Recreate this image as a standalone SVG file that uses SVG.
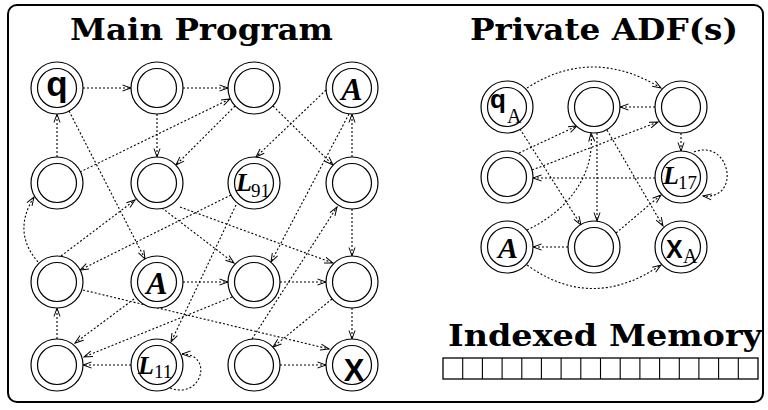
<svg xmlns="http://www.w3.org/2000/svg" width="768" height="410" viewBox="0 0 768 410">
  <style>
    .frame { fill: none; stroke: #000; stroke-width: 2; }
    .outer { fill: #fff; stroke: #000; stroke-width: 1.2; }
    .inner { fill: none; stroke: #000; stroke-width: 1.2; }
    .edge { fill: none; stroke: #000; stroke-width: 1.1; stroke-dasharray: 2 2; marker-end: url(#ah); }
    .title { font-family: "DejaVu Serif", "Liberation Serif", serif; font-weight: bold; font-size: 30px; }
    .sans { font-family: "Liberation Sans", Arial, sans-serif; font-weight: bold; }
    .ital { font-family: "Liberation Serif", "Times New Roman", serif; font-weight: bold; font-style: italic; }
    .sub { font-family: "Liberation Serif", "Times New Roman", serif; }
    .mem { fill: #fff; stroke: #000; stroke-width: 1.3; }
  </style>
  <defs>
    <marker id="ah" markerWidth="11" markerHeight="8" refX="9.5" refY="4" orient="auto" markerUnits="userSpaceOnUse">
      <path d="M1,1 L9.5,4 L1,7" fill="none" stroke="#000" stroke-width="1"/>
    </marker>
    <g id="node">
      <circle r="26" class="outer"/>
      <circle r="19.5" class="inner"/>
    </g>
  </defs>

  <rect width="768" height="410" fill="#fff"/>
  <rect class="frame" x="8" y="5" width="755" height="397" rx="9"/>

  <!-- section headings -->
  <text class="title" x="70" y="40" textLength="263" lengthAdjust="spacingAndGlyphs">Main Program</text>
  <text class="title" x="470" y="40" textLength="268" lengthAdjust="spacingAndGlyphs">Private ADF(s)</text>
  <text class="title" x="448" y="346" font-size="29" textLength="314" lengthAdjust="spacingAndGlyphs">Indexed Memory</text>

  <!-- connectors -->
  <g id="connectors">
    <!-- main program -->
    <path class="edge" d="M83,88 H131"/>
    <path class="edge" d="M183,88 H228"/>
    <path class="edge" d="M57,157 V114"/>
    <path class="edge" d="M80,172 L230,99"/>
    <path class="edge" d="M157,114 V157"/>
    <path class="edge" d="M235,106 L176,165"/>
    <path class="edge" d="M69,111 L145,259"/>
    <path class="edge" d="M273,106 L333,165"/>
    <path class="edge" d="M326,90 L256,157"/>
    <path class="edge" d="M352,157 V114"/>
    <path class="edge" d="M352,209 V256"/>
    <path class="edge" d="M352,308 V339"/>
    <path class="edge" d="M38,262 Q12,232 34,197"/>
    <path class="edge" d="M57,339 V308"/>
    <path class="edge" d="M131,365 H83"/>
    <path class="edge" d="M170,388 C202,400 214,354 182,354"/>
    <path class="edge" d="M183,282 H228"/>
    <path class="edge" d="M280,282 H326"/>
    <path class="edge" d="M280,365 H326"/>
    <path class="edge" d="M83,290 L329,349"/>
    <path class="edge" d="M231,195 L80,270"/>
    <path class="edge" d="M61,256 L135,200"/>
    <path class="edge" d="M134,299 L75,343"/>
    <path class="edge" d="M232,297 L84,357"/>
    <path class="edge" d="M162,208 L234,263"/>
    <path class="edge" d="M180,207 L333,263"/>
    <path class="edge" d="M332,299 L273,347"/>
    <path class="edge" d="M252,339 L337,207"/>
    <path class="edge" d="M349,114 L271,262"/>
    <path class="edge" d="M236,205 L171,342"/>
    <!-- private ADF -->
    <path class="edge" d="M527,88 Q592,46 661,88"/>
    <path class="edge" d="M655,107 H620"/>
    <path class="edge" d="M681,133 V151"/>
    <path class="edge" d="M694,152 C730,138 742,200 703,196"/>
    <path class="edge" d="M655,178 H533"/>
    <path class="edge" d="M519,153 L577,126"/>
    <path class="edge" d="M532,170 L658,122"/>
    <path class="edge" d="M520,129 L581,225"/>
    <path class="edge" d="M527,230 C565,212 595,178 591,133"/>
    <path class="edge" d="M597,133 V221"/>
    <path class="edge" d="M607,130 L663,226"/>
    <path class="edge" d="M616,233 L661,195"/>
    <path class="edge" d="M568,247 H533"/>
    <path class="edge" d="M527,265 Q592,312 661,265"/>
  </g>

  <!-- main program nodes -->
  <g id="m-q"><use href="#node" x="57" y="88"/><text class="sans" x="57" y="96" font-size="35" text-anchor="middle">q</text></g>
  <g id="m-n21"><use href="#node" x="157" y="88"/></g>
  <g id="m-n31"><use href="#node" x="254" y="88"/></g>
  <g id="m-a1"><use href="#node" x="352" y="88"/><text class="ital" x="352" y="100" font-size="32" text-anchor="middle">A</text></g>
  <g id="m-n12"><use href="#node" x="57" y="183"/></g>
  <g id="m-n22"><use href="#node" x="157" y="183"/></g>
  <g id="m-l91"><use href="#node" x="254" y="183"/><text class="ital" x="236" y="191" font-size="26">L</text><text class="sub" x="251" y="197" font-size="19">91</text></g>
  <g id="m-n42"><use href="#node" x="352" y="183"/></g>
  <g id="m-n13"><use href="#node" x="57" y="282"/></g>
  <g id="m-a2"><use href="#node" x="157" y="282"/><text class="ital" x="157" y="294" font-size="32" text-anchor="middle">A</text></g>
  <g id="m-n33"><use href="#node" x="254" y="282"/></g>
  <g id="m-n43"><use href="#node" x="352" y="282"/></g>
  <g id="m-n14"><use href="#node" x="57" y="365"/></g>
  <g id="m-l11"><use href="#node" x="157" y="365"/><text class="ital" x="138" y="374" font-size="26">L</text><text class="sub" x="154" y="378" font-size="19">11</text></g>
  <g id="m-n34"><use href="#node" x="254" y="365"/></g>
  <g id="m-x"><use href="#node" x="352" y="365"/><text class="sans" x="354" y="381" font-size="31" text-anchor="middle">X</text></g>

  <!-- private ADF nodes -->
  <g id="a-qa"><use href="#node" x="507" y="107"/><text class="sans" x="490" y="108" font-size="26">q</text><text class="sub" x="507" y="123" font-size="20">A</text></g>
  <g id="a-n21"><use href="#node" x="594" y="107"/></g>
  <g id="a-n31"><use href="#node" x="681" y="107"/></g>
  <g id="a-n12"><use href="#node" x="507" y="177"/></g>
  <g id="a-l17"><use href="#node" x="681" y="177"/><text class="ital" x="663" y="184" font-size="26">L</text><text class="sub" x="678" y="189" font-size="19">17</text></g>
  <g id="a-a"><use href="#node" x="507" y="247"/><text class="ital" x="508" y="258" font-size="30" text-anchor="middle">A</text></g>
  <g id="a-n23"><use href="#node" x="594" y="247"/></g>
  <g id="a-xa"><use href="#node" x="681" y="247"/><text class="sans" x="666" y="258" font-size="25">X</text><text class="sub" x="683" y="263" font-size="20">A</text></g>

  <!-- indexed memory cells -->
  <g id="memory">
    <rect class="mem" x="443" y="358" width="315" height="21"/>
    <path d="M462.7,358 V379 M482.4,358 V379 M502.1,358 V379 M521.8,358 V379 M541.4,358 V379 M561.1,358 V379 M580.8,358 V379 M600.5,358 V379 M620.2,358 V379 M639.9,358 V379 M659.6,358 V379 M679.3,358 V379 M698.9,358 V379 M718.6,358 V379 M738.3,358 V379" stroke="#000" stroke-width="1.1" fill="none"/>
  </g>
</svg>
